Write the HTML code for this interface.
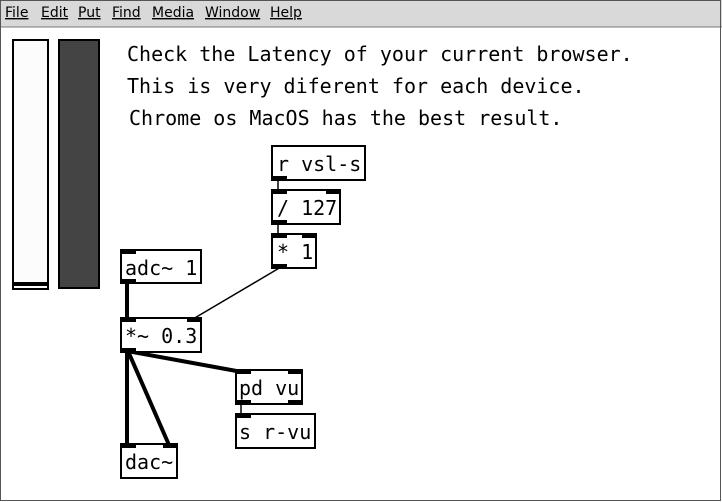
<!DOCTYPE html>
<html><head><style>
html,body{margin:0;padding:0;background:#fff;width:722px;height:502px;overflow:hidden}
svg{display:block}
text{font-family:"DejaVu Sans Mono","Liberation Mono",monospace;font-size:20px;fill:#000}
.m{font-family:"DejaVu Sans","Liberation Sans",sans-serif;font-size:14px;text-decoration:underline}
</style></head><body>
<svg width="722" height="502" viewBox="0 0 722 502">
<rect x="0" y="0" width="722" height="502" fill="#fff"/>
<rect x="0" y="0" width="722" height="27" fill="#d9d9d9"/>
<line x1="0" y1="27" x2="722" y2="27" stroke="#777" stroke-width="1"/>
<rect x="0.5" y="0.5" width="720" height="500" fill="none" stroke="#555" stroke-width="1"/>
<g class="mm">
<text class="m" x="5" y="17">File</text>
<text class="m" x="41" y="17">Edit</text>
<text class="m" x="78" y="17">Put</text>
<text class="m" x="112" y="17">Find</text>
<text class="m" x="152" y="17">Media</text>
<text class="m" x="205" y="17">Window</text>
<text class="m" x="270" y="17">Help</text>
</g>
<!-- sliders -->
<rect x="13" y="40" width="35" height="249" fill="#fcfcfc" stroke="#000" stroke-width="2"/>
<rect x="13" y="282" width="35" height="4" fill="#000"/>
<rect x="59" y="40" width="40" height="248" fill="#444" stroke="#000" stroke-width="2"/>
<!-- comments -->
<text x="127" y="61">Check the Latency of your current browser.</text>
<text x="127" y="93">This is very diferent for each device.</text>
<text x="129" y="125">Chrome os MacOS has the best result.</text>
<!-- connections -->
<g stroke="#000">
<line x1="278" y1="180" x2="278" y2="191" stroke-width="1.5"/>
<line x1="278" y1="224" x2="278" y2="235" stroke-width="1.5"/>
<line x1="281" y1="267" x2="193" y2="319" stroke-width="1.5"/>
<line x1="127" y1="283" x2="127" y2="319" stroke-width="4"/>
<line x1="127" y1="351" x2="242" y2="372" stroke-width="4"/>
<line x1="127" y1="351" x2="127" y2="445" stroke-width="4"/>
<line x1="128" y1="351" x2="169" y2="445" stroke-width="4"/>
<line x1="241" y1="404" x2="241" y2="414" stroke-width="1.5"/>
</g>
<!-- boxes -->
<g fill="#fff" stroke="#000" stroke-width="2">
<rect x="272" y="146" width="93" height="34"/>
<rect x="272" y="190" width="68" height="34"/>
<rect x="272" y="234" width="44" height="34"/>
<rect x="121" y="250" width="80" height="33"/>
<rect x="121" y="318" width="80" height="34"/>
<rect x="236" y="370" width="66" height="34"/>
<rect x="236" y="414" width="79" height="34"/>
<rect x="121" y="444" width="56" height="34"/>
</g>
<g fill="#000">
<!-- r vsl-s outlet -->
<rect x="272" y="176" width="15" height="4"/>
<!-- /127 -->
<rect x="272" y="190" width="15" height="4"/><rect x="326" y="190" width="15" height="4"/><rect x="272" y="220" width="15" height="4"/>
<!-- *1 -->
<rect x="272" y="234" width="15" height="4"/><rect x="302" y="234" width="15" height="4"/><rect x="272" y="264" width="15" height="4"/>
<!-- adc -->
<rect x="121" y="250" width="15" height="4"/><rect x="121" y="279" width="15" height="4"/>
<!-- *~ -->
<rect x="121" y="318" width="15" height="4"/><rect x="187" y="318" width="15" height="4"/><rect x="121" y="348" width="15" height="4"/>
<!-- pd vu -->
<rect x="236" y="370" width="15" height="4"/><rect x="288" y="370" width="15" height="4"/><rect x="236" y="400" width="15" height="4"/><rect x="288" y="400" width="15" height="4"/>
<!-- s r-vu -->
<rect x="236" y="414" width="15" height="4"/>
<!-- dac -->
<rect x="121" y="444" width="15" height="4"/><rect x="163" y="444" width="15" height="4"/>
</g>
<text x="277" y="171">r vsl-s</text>
<text x="277" y="215">/ 127</text>
<text x="277" y="259">* 1</text>
<text x="125" y="275">adc~ 1</text>
<text x="125" y="343">*~ 0.3</text>
<text x="239" y="395">pd vu</text>
<text x="239" y="439">s r-vu</text>
<text x="125" y="469">dac~</text>
</svg>
</body></html>
